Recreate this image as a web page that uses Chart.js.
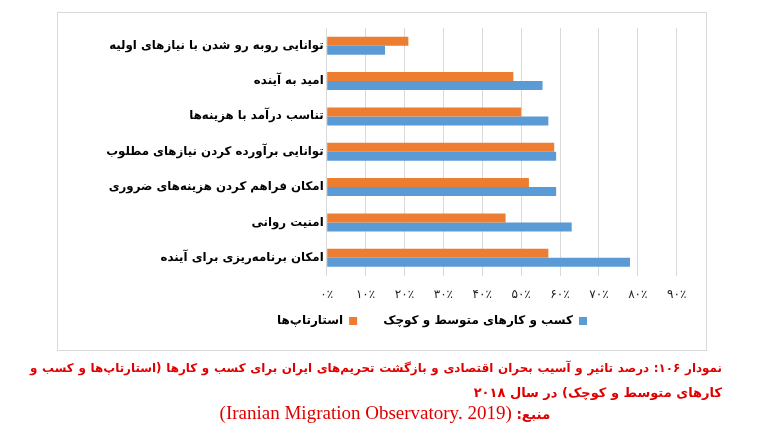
<!DOCTYPE html>
<html lang="fa">
<head>
<meta charset="utf-8">
<script src="https://cdn.jsdelivr.net/npm/chart.js@4.4.1/dist/chart.umd.min.js"></script>
<style>
  html, body { margin:0; padding:0; background:#fff; width:770px; height:440px; overflow:hidden; }
  #frame { position:absolute; left:57px; top:12px; width:648px; height:337px; border:1px solid #d9d9d9; }
  #c { position:absolute; left:0; top:0; }
  .cap { position:absolute; color:#e00000; font-family:"DejaVu Sans", sans-serif; font-weight:bold; white-space:nowrap; }
  #cap1 { left:30px; width:692px; top:361px; font-size:11.9px; text-align:justify; text-align-last:justify; direction:rtl; }
  #cap2 { right:48px; top:385px; font-size:13px; direction:rtl; }
  #cap3 { left:0; width:770px; top:402px; text-align:center; direction:rtl; font-weight:normal; }
  #cap3 .fa { font-family:"DejaVu Sans", sans-serif; font-weight:bold; font-size:13.5px; }
  #cap3 .en { font-family:"Liberation Serif", serif; font-size:19px; }
</style>
</head>
<body>
<div id="frame"></div>
<canvas id="c" width="770" height="440"></canvas>
<div class="cap" id="cap1">نمودار ۱۰۶: درصد تاثیر و آسیب بحران اقتصادی و بازگشت تحریم‌های ایران برای کسب و کارها (استارتاپ‌ها و کسب و</div>
<div class="cap" id="cap2">کارهای متوسط و کوچک) در سال ۲۰۱۸</div>
<div class="cap" id="cap3"><span class="fa">منبع: </span><span class="en" dir="ltr">(Iranian Migration Observatory. 2019)</span></div>
<script>
const categories = [
  'توانایی روبه رو شدن با نیازهای اولیه',
  'امید به آینده',
  'تناسب درآمد با هزینه‌ها',
  'توانایی برآورده کردن نیازهای مطلوب',
  'امکان فراهم کردن هزینه‌های ضروری',
  'امنیت روانی',
  'امکان برنامه‌ریزی برای آینده'
];
const startupLabel = 'استارتاپ‌ها';
const smeLabel = 'کسب و کارهای متوسط و کوچک';
const startupValues = [21, 48, 50, 58.5, 52, 46, 57];
const smeValues = [15, 55.5, 57, 59, 59, 63, 78];
const tickLabels = ['۰٪','۱۰٪','۲۰٪','۳۰٪','۴۰٪','۵۰٪','۶۰٪','۷۰٪','۸۰٪','۹۰٪'];

const LEFT_PAD = 20;
const AREA_LEFT = 326.7;
const LEGEND_FONT = 12;
const LEGEND_PAD = 26;

const legendPlacement = {
  id: 'legendPlacement',
  afterLayout(chart) {
    const lg = chart.legend;
    if (!lg) return;
    lg.left = 187.3;
    lg.right = 676.7;
    lg.width = lg.right - lg.left;
    lg.top = 321 - LEGEND_PAD - LEGEND_FONT / 2;
    lg.bottom = lg.top + lg.height;
  }
};

new Chart(document.getElementById('c'), {
  type: 'bar',
  data: {
    labels: categories,
    datasets: [
      { label: startupLabel, data: startupValues, backgroundColor: '#ED7D31', categoryPercentage: 0.51, barPercentage: 1.0 },
      { label: smeLabel, data: smeValues, backgroundColor: '#5B9BD5', categoryPercentage: 0.51, barPercentage: 1.0 }
    ]
  },
  plugins: [legendPlacement],
  options: {
    indexAxis: 'y',
    responsive: false,
    animation: false,
    devicePixelRatio: 1,
    layout: { padding: { left: LEFT_PAD, right: 93.3, top: 28, bottom: 87 } },
    scales: {
      x: {
        min: 0, max: 90,
        ticks: {
          stepSize: 10,
          padding: 12,
          color: '#222',
          font: { family: 'DejaVu Sans', size: 12 },
          callback: (v, i) => tickLabels[i]
        },
        grid: { color: '#d9d9d9', drawTicks: false },
        border: { display: false },
        afterFit: (s) => { s.height = 29.5; }
      },
      y: {
        ticks: {
          padding: 3,
          color: '#000',
          font: { family: 'DejaVu Sans', size: 11.8, weight: 'bold' }
        },
        grid: { display: false, drawTicks: false },
        border: { display: false },
        afterFit: (s) => { s.width = AREA_LEFT - LEFT_PAD; }
      }
    },
    plugins: {
      tooltip: { enabled: false },
      legend: {
        position: 'bottom',
        rtl: true,
        reverse: true,
        textDirection: 'rtl',
        labels: {
          boxWidth: 8, boxHeight: 8,
          padding: LEGEND_PAD,
          color: '#000',
          font: { family: 'DejaVu Sans', size: LEGEND_FONT, weight: 'bold' }
        }
      }
    }
  }
});
</script>
</body>
</html>
